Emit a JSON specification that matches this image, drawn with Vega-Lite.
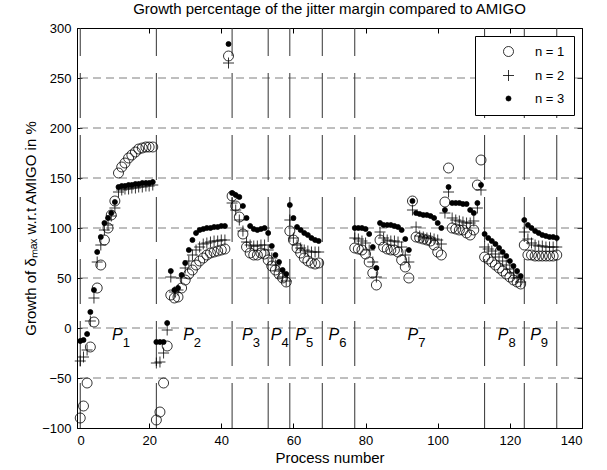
{
  "$schema": "https://vega.github.io/schema/vega-lite/v6.json",
  "width": 505,
  "height": 400,
  "autosize": {"type": "none"},
  "padding": {"left": 77, "top": 28, "right": 25, "bottom": 42},
  "background": "white",
  "title": {"text": "Growth percentage of the jitter margin compared to AMIGO", "fontSize": 15, "fontWeight": "normal", "font": "Liberation Sans", "color": "black", "offset": 5},
  "config": {
    "font": "Liberation Sans",
    "view": {"stroke": "black", "strokeWidth": 1},
    "axis": {"labelFont": "Liberation Sans", "titleFont": "Liberation Sans", "labelColor": "black", "titleColor": "black", "labelFontSize": 13, "titleFontSize": 15, "titleFontWeight": "normal", "tickColor": "black", "tickSize": -5, "tickWidth": 1, "domain": false, "grid": false, "labelPadding": 11}
  },
  "datasets": {
    "main": [
      {"x": 0.9, "n = 1": -90, "n = 2": -33, "n = 3": -13},
      {"x": 1.8, "n = 1": -78, "n = 2": -29, "n = 3": -12},
      {"x": 2.8, "n = 1": -55, "n = 2": -22, "n = 3": -6},
      {"x": 3.7, "n = 1": -19, "n = 2": 7, "n = 3": 16},
      {"x": 4.7, "n = 1": 6, "n = 2": 30, "n = 3": 38},
      {"x": 5.6, "n = 1": 40, "n = 2": 66, "n = 3": 76},
      {"x": 6.6, "n = 1": 63, "n = 2": 83, "n = 3": 91},
      {"x": 7.6, "n = 1": 88, "n = 2": 98, "n = 3": 105},
      {"x": 8.6, "n = 1": 100, "n = 2": 103, "n = 3": 110},
      {"x": 9.5, "n = 1": 113, "n = 2": 112, "n = 3": 115},
      {"x": 10.5, "n = 1": 127, "n = 2": 120, "n = 3": 126},
      {"x": 11.5, "n = 1": 155, "n = 2": 136, "n = 3": 141},
      {"x": 12.4, "n = 1": 161, "n = 2": 138, "n = 3": 142},
      {"x": 13.3, "n = 1": 165, "n = 2": 139, "n = 3": 142},
      {"x": 14.3, "n = 1": 170, "n = 2": 139, "n = 3": 143},
      {"x": 15.2, "n = 1": 173, "n = 2": 140, "n = 3": 143},
      {"x": 16.2, "n = 1": 176, "n = 2": 140, "n = 3": 144},
      {"x": 17.1, "n = 1": 179, "n = 2": 141, "n = 3": 144},
      {"x": 18.1, "n = 1": 180, "n = 2": 141, "n = 3": 145},
      {"x": 19.1, "n = 1": 181, "n = 2": 142, "n = 3": 145},
      {"x": 20.0, "n = 1": 181, "n = 2": 142, "n = 3": 145},
      {"x": 21.0, "n = 1": 181, "n = 2": 143, "n = 3": 146},
      {"x": 22, "n = 1": -92, "n = 2": -35, "n = 3": -14},
      {"x": 23, "n = 1": -84, "n = 2": -34, "n = 3": -14},
      {"x": 24, "n = 1": -55, "n = 2": -25, "n = 3": -14},
      {"x": 25, "n = 1": -18, "n = 2": -2, "n = 3": 5},
      {"x": 26, "n = 1": 33, "n = 2": 51, "n = 3": 57},
      {"x": 27, "n = 1": 30, "n = 2": 36, "n = 3": 38},
      {"x": 28, "n = 1": 31, "n = 2": 38, "n = 3": 40},
      {"x": 29, "n = 1": 40, "n = 2": 50, "n = 3": 53},
      {"x": 30, "n = 1": 48, "n = 2": 60, "n = 3": 65},
      {"x": 31, "n = 1": 54, "n = 2": 67, "n = 3": 78},
      {"x": 32, "n = 1": 58, "n = 2": 73, "n = 3": 88},
      {"x": 33, "n = 1": 63, "n = 2": 78, "n = 3": 95},
      {"x": 34, "n = 1": 67, "n = 2": 81, "n = 3": 98},
      {"x": 35, "n = 1": 70, "n = 2": 84, "n = 3": 99},
      {"x": 36, "n = 1": 73, "n = 2": 85, "n = 3": 100},
      {"x": 37, "n = 1": 75, "n = 2": 86, "n = 3": 100},
      {"x": 38, "n = 1": 76, "n = 2": 87, "n = 3": 101},
      {"x": 39, "n = 1": 77, "n = 2": 87, "n = 3": 101},
      {"x": 40, "n = 1": 78, "n = 2": 88, "n = 3": 102},
      {"x": 41, "n = 1": 79, "n = 2": 88, "n = 3": 102},
      {"x": 42, "n = 1": 272, "n = 2": 265, "n = 3": 284},
      {"x": 43, "n = 1": 132, "n = 2": 125, "n = 3": 135},
      {"x": 44, "n = 1": 122, "n = 2": 118, "n = 3": 133},
      {"x": 45, "n = 1": 111, "n = 2": 108, "n = 3": 131},
      {"x": 46, "n = 1": 94, "n = 2": 97, "n = 3": 122},
      {"x": 47, "n = 1": 81, "n = 2": 86, "n = 3": 110},
      {"x": 48, "n = 1": 75, "n = 2": 83, "n = 3": 102},
      {"x": 49, "n = 1": 73, "n = 2": 82, "n = 3": 99},
      {"x": 50, "n = 1": 73, "n = 2": 82, "n = 3": 98},
      {"x": 51, "n = 1": 75, "n = 2": 83, "n = 3": 99},
      {"x": 52, "n = 1": 74, "n = 2": 83, "n = 3": 100},
      {"x": 53, "n = 1": 68, "n = 2": 78, "n = 3": 95},
      {"x": 54, "n = 1": 62, "n = 2": 70, "n = 3": 82},
      {"x": 55, "n = 1": 58, "n = 2": 63, "n = 3": 73},
      {"x": 56, "n = 1": 54, "n = 2": 57, "n = 3": 66},
      {"x": 57, "n = 1": 50, "n = 2": 51, "n = 3": 58},
      {"x": 58, "n = 1": 46, "n = 2": 47, "n = 3": 54},
      {"x": 59, "n = 1": 97, "n = 2": 108, "n = 3": 123},
      {"x": 60, "n = 1": 88, "n = 2": 90, "n = 3": 110},
      {"x": 61, "n = 1": 80, "n = 2": 83, "n = 3": 101},
      {"x": 62, "n = 1": 75, "n = 2": 80, "n = 3": 98},
      {"x": 63, "n = 1": 70, "n = 2": 78, "n = 3": 95},
      {"x": 64, "n = 1": 67, "n = 2": 77, "n = 3": 93},
      {"x": 65, "n = 1": 65, "n = 2": 76, "n = 3": 90},
      {"x": 66, "n = 1": 64, "n = 2": 76, "n = 3": 88},
      {"x": 67, "n = 1": 65, "n = 2": 76, "n = 3": 87},
      {"x": 77, "n = 1": 80, "n = 2": 90, "n = 3": 100},
      {"x": 78, "n = 1": 79, "n = 2": 89, "n = 3": 100},
      {"x": 79, "n = 1": 78, "n = 2": 87, "n = 3": 100},
      {"x": 80, "n = 1": 74, "n = 2": 85, "n = 3": 99},
      {"x": 81, "n = 1": 66, "n = 2": 78, "n = 3": 94},
      {"x": 82, "n = 1": 55, "n = 2": 66, "n = 3": 81},
      {"x": 83, "n = 1": 43, "n = 2": 51, "n = 3": 60},
      {"x": 84, "n = 1": 88, "n = 2": 96, "n = 3": 105},
      {"x": 85, "n = 1": 81, "n = 2": 90, "n = 3": 103},
      {"x": 86, "n = 1": 79, "n = 2": 88, "n = 3": 103},
      {"x": 87, "n = 1": 78, "n = 2": 87, "n = 3": 103},
      {"x": 88, "n = 1": 78, "n = 2": 87, "n = 3": 102},
      {"x": 89, "n = 1": 76, "n = 2": 86, "n = 3": 101},
      {"x": 90, "n = 1": 68, "n = 2": 81, "n = 3": 98},
      {"x": 91, "n = 1": 61, "n = 2": 73, "n = 3": 89},
      {"x": 92, "n = 1": 50, "n = 2": 66, "n = 3": 78},
      {"x": 93, "n = 1": 127, "n = 2": 118, "n = 3": 127},
      {"x": 94, "n = 1": 91, "n = 2": 101, "n = 3": 115},
      {"x": 95, "n = 1": 90, "n = 2": 92, "n = 3": 114},
      {"x": 96, "n = 1": 89, "n = 2": 91, "n = 3": 113},
      {"x": 97, "n = 1": 88, "n = 2": 90, "n = 3": 113},
      {"x": 98, "n = 1": 87, "n = 2": 90, "n = 3": 112},
      {"x": 99, "n = 1": 83, "n = 2": 89, "n = 3": 110},
      {"x": 100, "n = 1": 76, "n = 2": 88, "n = 3": 105},
      {"x": 101, "n = 1": 73, "n = 2": 84, "n = 3": 100},
      {"x": 102, "n = 1": 126, "n = 2": 115, "n = 3": 118},
      {"x": 103, "n = 1": 160, "n = 2": 136, "n = 3": 141},
      {"x": 104, "n = 1": 100, "n = 2": 110, "n = 3": 125},
      {"x": 105, "n = 1": 99, "n = 2": 108, "n = 3": 125},
      {"x": 106, "n = 1": 98, "n = 2": 107, "n = 3": 125},
      {"x": 107, "n = 1": 98, "n = 2": 106, "n = 3": 124},
      {"x": 108, "n = 1": 95, "n = 2": 105, "n = 3": 124},
      {"x": 109, "n = 1": 93, "n = 2": 105, "n = 3": 118},
      {"x": 110, "n = 1": 98, "n = 2": 107, "n = 3": 115},
      {"x": 111, "n = 1": 143, "n = 2": 120, "n = 3": 125},
      {"x": 112, "n = 1": 168, "n = 2": 138, "n = 3": 143},
      {"x": 113, "n = 1": 71, "n = 2": 81, "n = 3": 94},
      {"x": 114, "n = 1": 69, "n = 2": 79, "n = 3": 90},
      {"x": 115, "n = 1": 66, "n = 2": 77, "n = 3": 87},
      {"x": 116, "n = 1": 63, "n = 2": 74, "n = 3": 84},
      {"x": 117, "n = 1": 60, "n = 2": 71, "n = 3": 80},
      {"x": 118, "n = 1": 57, "n = 2": 67, "n = 3": 76},
      {"x": 119, "n = 1": 54, "n = 2": 63, "n = 3": 72},
      {"x": 120, "n = 1": 51, "n = 2": 59, "n = 3": 67},
      {"x": 121, "n = 1": 48, "n = 2": 55, "n = 3": 62},
      {"x": 122, "n = 1": 46, "n = 2": 50, "n = 3": 57},
      {"x": 123, "n = 1": 44, "n = 2": 46, "n = 3": 52},
      {"x": 124, "n = 1": 83, "n = 2": 96, "n = 3": 108},
      {"x": 125, "n = 1": 73, "n = 2": 89, "n = 3": 103},
      {"x": 126, "n = 1": 73, "n = 2": 85, "n = 3": 100},
      {"x": 127, "n = 1": 72, "n = 2": 83, "n = 3": 97},
      {"x": 128, "n = 1": 72, "n = 2": 82, "n = 3": 95},
      {"x": 129, "n = 1": 72, "n = 2": 82, "n = 3": 93},
      {"x": 130, "n = 1": 72, "n = 2": 81, "n = 3": 92},
      {"x": 131, "n = 1": 72, "n = 2": 81, "n = 3": 91},
      {"x": 132, "n = 1": 72, "n = 2": 81, "n = 3": 91},
      {"x": 133, "n = 1": 73, "n = 2": 81, "n = 3": 90}
    ],
    "bounds": [{"b": 0.9}, {"b": 22}, {"b": 43}, {"b": 53}, {"b": 59}, {"b": 68}, {"b": 77}, {"b": 113}, {"b": 124}, {"b": 133}],
    "grid": [{"g": -50}, {"g": 0}, {"g": 50}, {"g": 100}, {"g": 150}, {"g": 200}, {"g": 250}],
    "labels": [
      {"x": 11.2, "y": -7, "s": "1"},
      {"x": 30.9, "y": -7, "s": "2"},
      {"x": 47.2, "y": -7, "s": "3"},
      {"x": 55.2, "y": -7, "s": "4"},
      {"x": 62.0, "y": -7, "s": "5"},
      {"x": 71.2, "y": -7, "s": "6"},
      {"x": 93.1, "y": -7, "s": "7"},
      {"x": 118.1, "y": -7, "s": "8"},
      {"x": 127.1, "y": -7, "s": "9"}
    ]
  },
  "resolve": {"axis": {"x": "independent", "y": "independent"}},
  "layer": [
    {
      "data": {"name": "grid"},
      "mark": {"type": "rule", "color": "#7f7f7f", "strokeDash": [8, 5], "strokeWidth": 1},
      "encoding": {
        "y": {"field": "g", "type": "quantitative", "scale": {"domain": [-100, 300], "nice": false}, "axis": null}
      }
    },
    {
      "data": {"name": "bounds"},
      "mark": {"type": "rule", "color": "#333333", "strokeDash": [45, 17], "strokeWidth": 1},
      "encoding": {
        "x": {"field": "b", "type": "quantitative", "scale": {"domain": [0, 140], "nice": false}, "axis": null},
        "y": {"datum": -100, "type": "quantitative", "axis": null},
        "y2": {"datum": 300}
      }
    },
    {
      "data": {"name": "labels"},
      "mark": {"type": "text", "text": "P", "fontStyle": "italic", "fontSize": 16, "font": "Liberation Sans", "color": "black"},
      "encoding": {
        "x": {"field": "x", "type": "quantitative", "axis": {"orient": "top", "labels": false, "title": null, "values": [0, 20, 40, 60, 80, 100, 120, 140]}},
        "y": {"field": "y", "type": "quantitative", "axis": {"orient": "right", "labels": false, "title": null, "values": [-100, -50, 0, 50, 100, 150, 200, 250, 300]}}
      }
    },
    {
      "data": {"name": "labels"},
      "mark": {"type": "text", "dx": 9, "dy": 8, "fontSize": 13, "font": "Liberation Sans", "color": "black"},
      "encoding": {
        "x": {"field": "x", "type": "quantitative", "axis": null},
        "y": {"field": "y", "type": "quantitative", "axis": null},
        "text": {"field": "s", "type": "nominal"}
      }
    },
    {
      "data": {"name": "main"},
      "transform": [{"fold": ["n = 1", "n = 2", "n = 3"], "as": ["key", "value"]}],
      "mark": {"type": "point", "stroke": "black", "strokeWidth": 0.8, "opacity": 1},
      "encoding": {
        "x": {"field": "x", "type": "quantitative", "axis": {"orient": "bottom", "title": "Process number", "titlePadding": 3, "values": [0, 20, 40, 60, 80, 100, 120, 140]}},
        "y": {"field": "value", "type": "quantitative", "axis": {"orient": "left", "title": "Growth of δₘₐₓ w.r.t AMIGO in %", "titlePadding": 3, "values": [-100, -50, 0, 50, 100, 150, 200, 250, 300]}},
        "shape": {"field": "key", "type": "nominal", "scale": {"domain": ["n = 1", "n = 2", "n = 3"], "range": ["circle", "M-1,0H1M0,-1V1", "circle"]}, "legend": {"title": null, "orient": "top-right", "offset": 8, "strokeColor": "black", "fillColor": "white", "padding": 9, "labelFontSize": 13, "labelFont": "Liberation Sans", "labelColor": "black", "rowPadding": 9, "symbolOffset": 18, "labelOffset": 20, "symbolStrokeColor": "black", "symbolStrokeWidth": 0.8, "cornerRadius": 0}},
        "fill": {"field": "key", "type": "nominal", "scale": {"domain": ["n = 1", "n = 2", "n = 3"], "range": ["transparent", "transparent", "black"]}},
        "size": {"field": "key", "type": "nominal", "scale": {"type": "ordinal", "domain": ["n = 1", "n = 2", "n = 3"], "range": [100, 121, 25]}}
      }
    }
  ]
}
